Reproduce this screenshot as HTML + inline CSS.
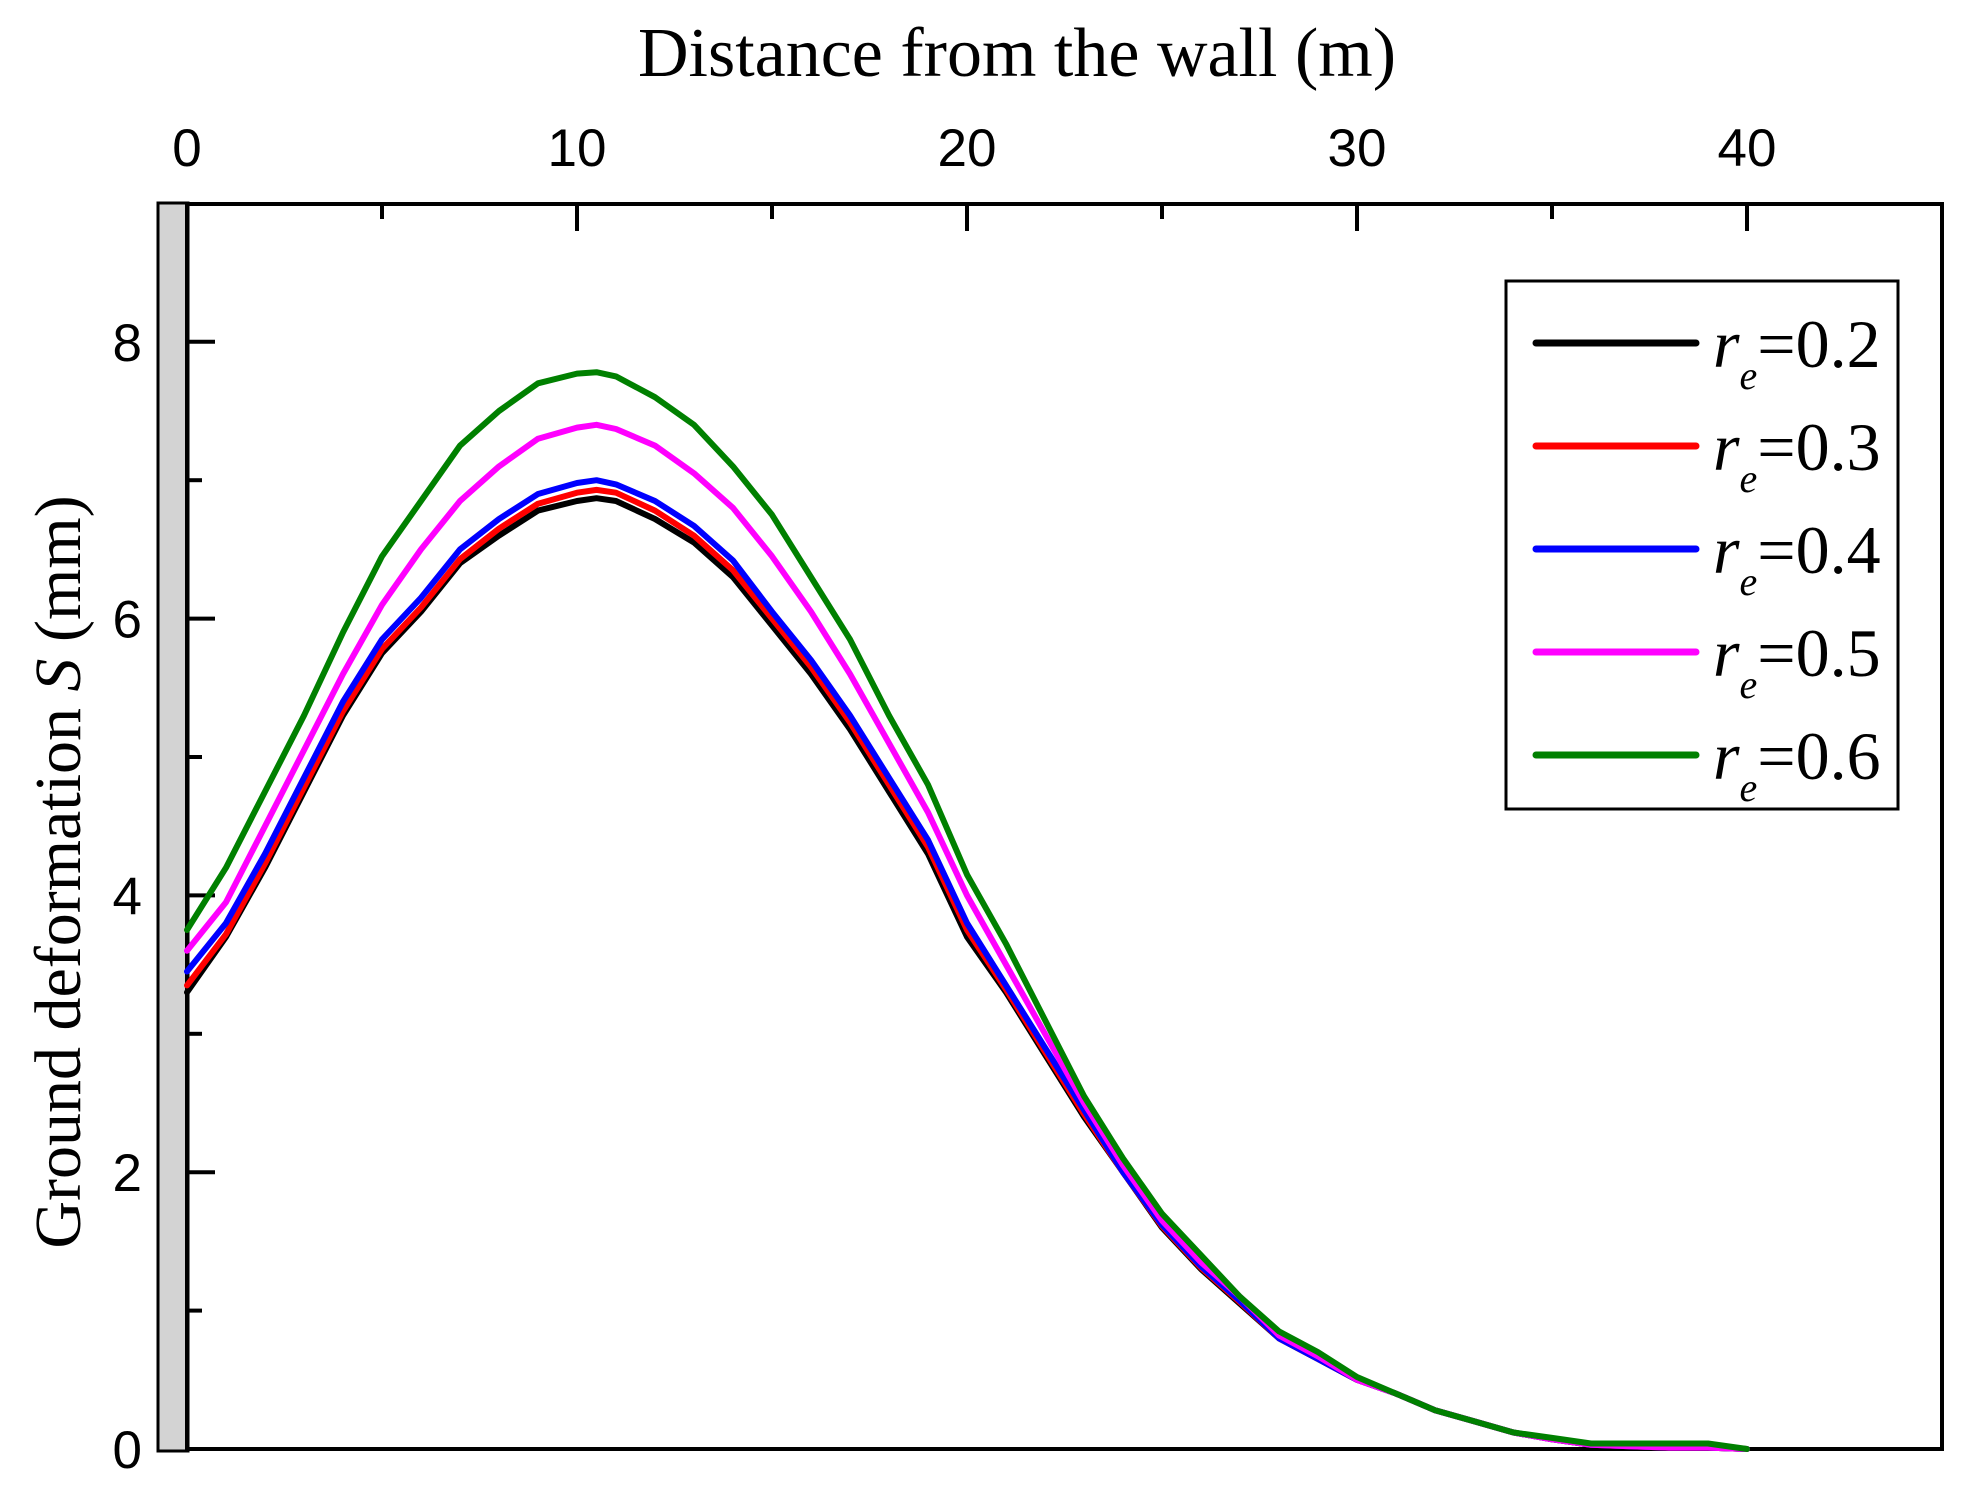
<!DOCTYPE html>
<html><head><meta charset="utf-8"><style>
body{margin:0;background:#fff}
svg{display:block}
text{font-family:"Liberation Sans",sans-serif}
.serif{font-family:"Liberation Serif",serif}
</style></head><body>
<svg width="1967" height="1489" viewBox="0 0 1967 1489">
<g id="axes"></g>
<g id="series"></g>
<g id="legend"></g>
</svg>
<script>
const xs=[0,1,2,3,4,5,6,7,8,9,10,10.5,11,12,13,14,15,16,17,18,19,20,21,22,23,24,25,26,27,28,29,30,31,32,33,34,35,36,37,38,39,40];
const s02=[3.3,3.7,4.2,4.75,5.3,5.75,6.05,6.4,6.6,6.78,6.85,6.87,6.85,6.72,6.55,6.3,5.95,5.6,5.2,4.75,4.3,3.7,3.3,2.85,2.4,2.0,1.6,1.3,1.05,0.8,0.65,0.5,0.4,0.28,0.2,0.12,0.07,0.03,0.02,0.01,0.01,0];
const s03=[3.35,3.72,4.23,4.78,5.33,5.78,6.08,6.43,6.65,6.83,6.91,6.93,6.91,6.78,6.6,6.35,6.0,5.65,5.25,4.8,4.35,3.75,3.32,2.87,2.42,2.0,1.61,1.31,1.06,0.8,0.65,0.5,0.4,0.28,0.2,0.12,0.07,0.03,0.02,0.01,0.01,0];
const s04=[3.45,3.8,4.3,4.85,5.4,5.85,6.15,6.5,6.72,6.9,6.98,7.0,6.97,6.85,6.67,6.42,6.05,5.7,5.3,4.85,4.4,3.8,3.35,2.9,2.45,2.0,1.62,1.32,1.07,0.8,0.65,0.5,0.4,0.28,0.2,0.12,0.07,0.03,0.02,0.01,0.01,0];
const s05=[3.6,3.95,4.5,5.05,5.6,6.1,6.5,6.85,7.1,7.3,7.38,7.4,7.37,7.25,7.05,6.8,6.45,6.05,5.6,5.1,4.6,4.0,3.5,3.0,2.5,2.05,1.65,1.35,1.1,0.82,0.67,0.5,0.4,0.28,0.2,0.12,0.07,0.03,0.02,0.01,0.01,0];
const s06=[3.75,4.2,4.75,5.3,5.9,6.45,6.85,7.25,7.5,7.7,7.77,7.78,7.75,7.6,7.4,7.1,6.75,6.3,5.85,5.3,4.8,4.15,3.65,3.1,2.55,2.1,1.7,1.4,1.1,0.85,0.7,0.52,0.4,0.28,0.2,0.12,0.08,0.04,0.04,0.04,0.04,0];
const seriesNames=["0.2","0.3","0.4","0.5","0.6"];
const xTicks=[0,10,20,30,40];
const yTicks=[0,2,4,6,8];

const NS="http://www.w3.org/2000/svg";
const X=v=>187+v*39.0;
const Y=v=>1449-v*138.4;
function mk(tag,attrs,parent,txt){const e=document.createElementNS(NS,tag);for(const k in attrs)e.setAttribute(k,attrs[k]);if(txt!==undefined)e.textContent=txt;parent.appendChild(e);return e;}
const axes=document.getElementById('axes');
const wall=mk('rect',{x:158,y:203,width:30,height:1248,fill:'#d3d3d3',stroke:'#000','stroke-width':3},axes);


const frame=mk('rect',{x:187,y:204,width:1755,height:1245,fill:'none',stroke:'#000','stroke-width':4},axes);


for(let v=5;v<=45;v+=5){
 const major=v%10===0;
 const t=mk('line',{x1:X(v),x2:X(v),y1:204,y2:204+(major?27:15),stroke:'#000','stroke-width':4},axes);
 
 
}
xTicks.forEach(v=>{
 const t=mk('text',{x:X(v),y:166,'text-anchor':'middle','font-size':53},axes,String(v));
 
 
});
for(let v=1;v<=8;v++){
 const major=v%2===0;
 const t=mk('line',{x1:188,x2:188+(major?27:14),y1:Y(v),y2:Y(v),stroke:'#000','stroke-width':4},axes);
 
 
}
yTicks.forEach(v=>{
 const t=mk('text',{x:142,y:Y(v)+19,'text-anchor':'end','font-size':53},axes,String(v));
 
 
});
const xt=mk('text',{x:1017,y:76,'text-anchor':'middle','font-size':70,class:'serif'},axes,'Distance from the wall (m)');


const yt=mk('text',{transform:'translate(80,872) rotate(-90)','text-anchor':'middle','font-size':66,class:'serif'},axes);


mk('tspan',{},yt,'Ground deformation ');
mk('tspan',{'font-style':'italic'},yt,'S');
mk('tspan',{},yt,' (mm)');

const data=[s02,s03,s04,s05,s06];
const colors=['#000000','#ff0000','#0000ff','#ff00ff','#008000'];
const sg=document.getElementById('series');
data.forEach((arr,i)=>{
 const pts=arr.map((v,j)=>X(xs[j]).toFixed(1)+','+Y(v).toFixed(1)).join(' ');
 const p=mk('polyline',{points:pts,fill:'none',stroke:colors[i],'stroke-width':6,'stroke-linejoin':'round','stroke-linecap':'round'},sg);
 
 
});
const lg=document.getElementById('legend');
const box=mk('rect',{x:1506,y:281,width:392,height:528,fill:'#fff',stroke:'#000','stroke-width':3},lg);


seriesNames.forEach((n,i)=>{
 const y=343+i*103;
 const l=mk('line',{x1:1536,x2:1696,y1:y,y2:y,stroke:colors[i],'stroke-width':7,'stroke-linecap':'round'},lg);
 
 
 const t=mk('text',{x:1713,y:y+24,'font-size':68,class:'serif'},lg);
 
 
 mk('tspan',{'font-style':'italic'},t,'r');
 mk('tspan',{'font-style':'italic','font-size':40,dy:22},t,'e');
 mk('tspan',{dy:-22},t,'=' + n);
});
</script>
</body></html>
